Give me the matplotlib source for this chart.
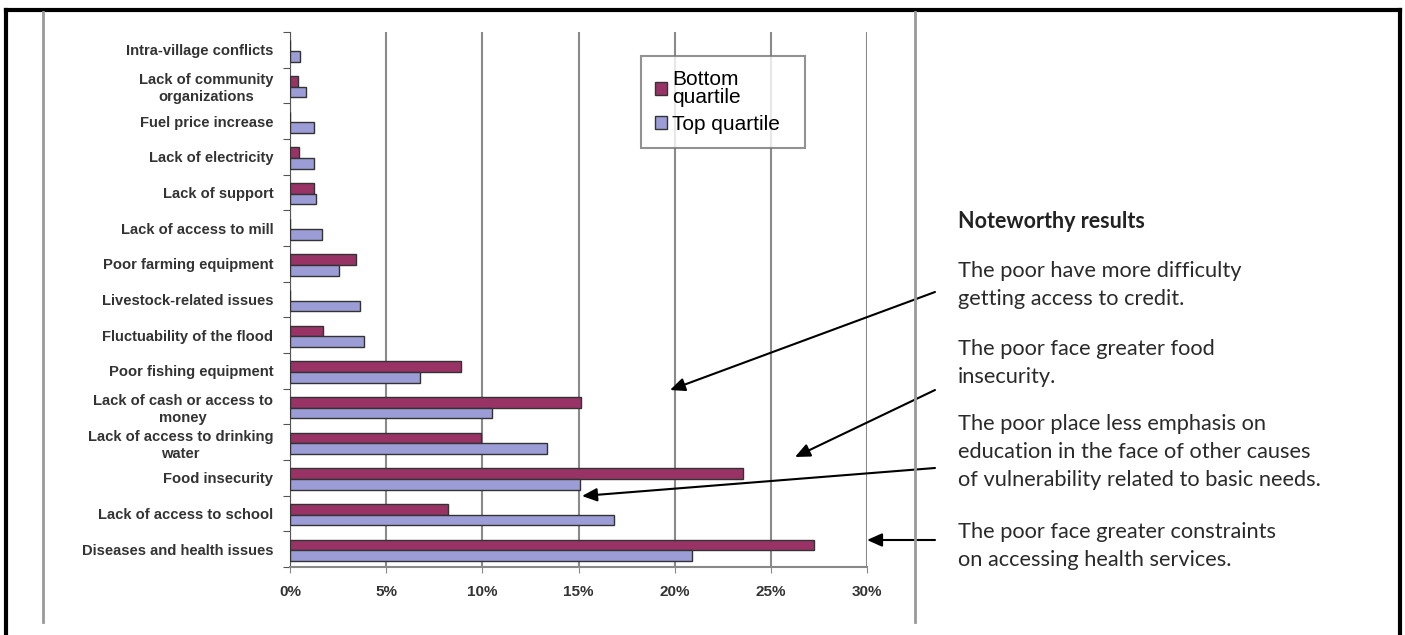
import matplotlib.pyplot as plt
import numpy as np
from matplotlib.lines import Line2D
from matplotlib.patches import Patch

# data, top to bottom as in the chart
categories = [
    "Intra-village conflicts",
    "Lack of community\norganizations",
    "Fuel price increase",
    "Lack of electricity",
    "Lack of support",
    "Lack of access to mill",
    "Poor farming equipment",
    "Livestock-related issues",
    "Fluctuability of the flood",
    "Poor fishing equipment",
    "Lack of cash or access to\nmoney",
    "Lack of access to drinking\nwater",
    "Food insecurity",
    "Lack of access to school",
    "Diseases and health issues",
]
bottom_quartile = [0.0, 0.4, 0.0, 0.45, 1.25, 0.0, 3.45, 0.0, 1.7, 8.9, 15.15, 9.95, 23.55, 8.2, 27.25]
top_quartile = [0.5, 0.85, 1.25, 1.25, 1.35, 1.65, 2.55, 3.65, 3.85, 6.75, 10.5, 13.35, 15.1, 16.85, 20.9]
x_ticks = [0, 5, 10, 15, 20, 25, 30]
x_ticklabels = ["0%", "5%", "10%", "15%", "20%", "25%", "30%"]
series_names = ["Bottom\nquartile", "Top quartile  "]

notes = [
    "The poor have more difficulty\ngetting access to credit.",
    "The poor face greater food\ninsecurity.",
    "The poor place less emphasis on\neducation in the face of other causes\nof vulnerability related to basic needs.",
    "The poor face greater constraints\non accessing health services.",
]

W, H = 1405, 635
maroon = "#993366"
lavender = "#9c9cd6"


def fx(x):
    return x / W


def fy(y):
    return 1 - y / H


fig = plt.figure(figsize=(W / 100, H / 100), dpi=100)
ax = fig.add_axes([fx(290), fy(567), fx(867) - fx(290), fy(32) - fy(567)])

y = np.arange(len(categories))
h = 0.3
ax.barh(y - h / 2 + 0.03, bottom_quartile, height=h, color=maroon, edgecolor="#333333", linewidth=1, zorder=3)
ax.barh(y + h / 2 + 0.03, top_quartile, height=h, color=lavender, edgecolor="#333333", linewidth=1, zorder=3)

ax.set_xlim(0, 30)
ax.set_ylim(len(categories) - 0.5, -0.5)
ax.set_xticks(x_ticks)
ax.set_xticklabels(x_ticklabels, fontsize=11, fontweight="bold", color="#333333",
                   fontfamily="Liberation Sans")
ax.tick_params(axis="x", length=4, color="#888888", pad=9)
ax.xaxis.grid(True, color="#8a8a8a", linewidth=1.5, zorder=0)
ax.set_axisbelow(True)

ax.set_yticks(np.arange(len(categories) + 1) - 0.5)
ax.set_yticklabels([])
ax.tick_params(axis="y", which="major", length=5, color="#555555")
ax.set_yticks(y, minor=True)
ax.set_yticklabels(categories, minor=True, fontsize=10.6, fontweight="bold", color="#333333",
                   fontfamily="Liberation Sans", multialignment="center", linespacing=1.3)
ax.tick_params(axis="y", which="minor", length=0, pad=12)

for s in ["top", "right"]:
    ax.spines[s].set_visible(False)
ax.spines["left"].set_color("#555555")
ax.spines["bottom"].set_color("#888888")
ax.spines["bottom"].set_linewidth(1.5)

handles = [Patch(facecolor=maroon, edgecolor="#333333"), Patch(facecolor=lavender, edgecolor="#333333")]
leg = fig.legend(handles, series_names, loc="upper left", bbox_to_anchor=(fx(641), fy(56)),
                 bbox_transform=fig.transFigure, fancybox=False, edgecolor="#777777",
                 prop={"family": "Liberation Sans", "size": 15}, handlelength=0.6, handleheight=0.6,
                 handletextpad=0.25, labelspacing=0.4, borderpad=0.65, borderaxespad=0)
leg.get_frame().set_linewidth(1.5)
for t in leg.get_texts():
    t.set_linespacing(0.95)

# frame and separator lines
fig.add_artist(Line2D([fx(6), fx(6)], [fy(10), 0], color="black", lw=3))
fig.add_artist(Line2D([fx(6), fx(1400)], [fy(10), fy(10)], color="black", lw=3))
fig.add_artist(Line2D([fx(1400), fx(1400)], [fy(10), 0], color="black", lw=3))
fig.add_artist(Line2D([fx(43), fx(43)], [fy(12), fy(622)], color="#999999", lw=2))
fig.add_artist(Line2D([fx(915), fx(915)], [fy(12), fy(622)], color="#999999", lw=2))

# notes on the right
fig.text(fx(958), fy(222), "Noteworthy results", fontsize=15.5, fontweight="bold", color="#222222",
         fontfamily="Lato", va="center")
note_y = [285, 363, 452, 546]
for txt, yy in zip(notes, note_y):
    fig.text(fx(958), fy(yy), txt, fontsize=15.7, color="#2a2a2a", fontfamily="Lato",
             va="center", linespacing=1.5)

# arrows
arrows = [((935, 292), (670, 390)), ((935, 390), (795, 457)), ((935, 468), (582, 496)), ((935, 540), (867, 540))]
for (x0, y0), (x1, y1) in arrows:
    ax.annotate("", xy=(fx(x1), fy(y1)), xytext=(fx(x0), fy(y0)), xycoords="figure fraction",
                textcoords="figure fraction", annotation_clip=False,
                arrowprops=dict(arrowstyle="-|>,head_length=0.9,head_width=0.4", color="black",
                                lw=1.5, shrinkA=0, shrinkB=0))

fig.savefig("out.png", dpi=100)
